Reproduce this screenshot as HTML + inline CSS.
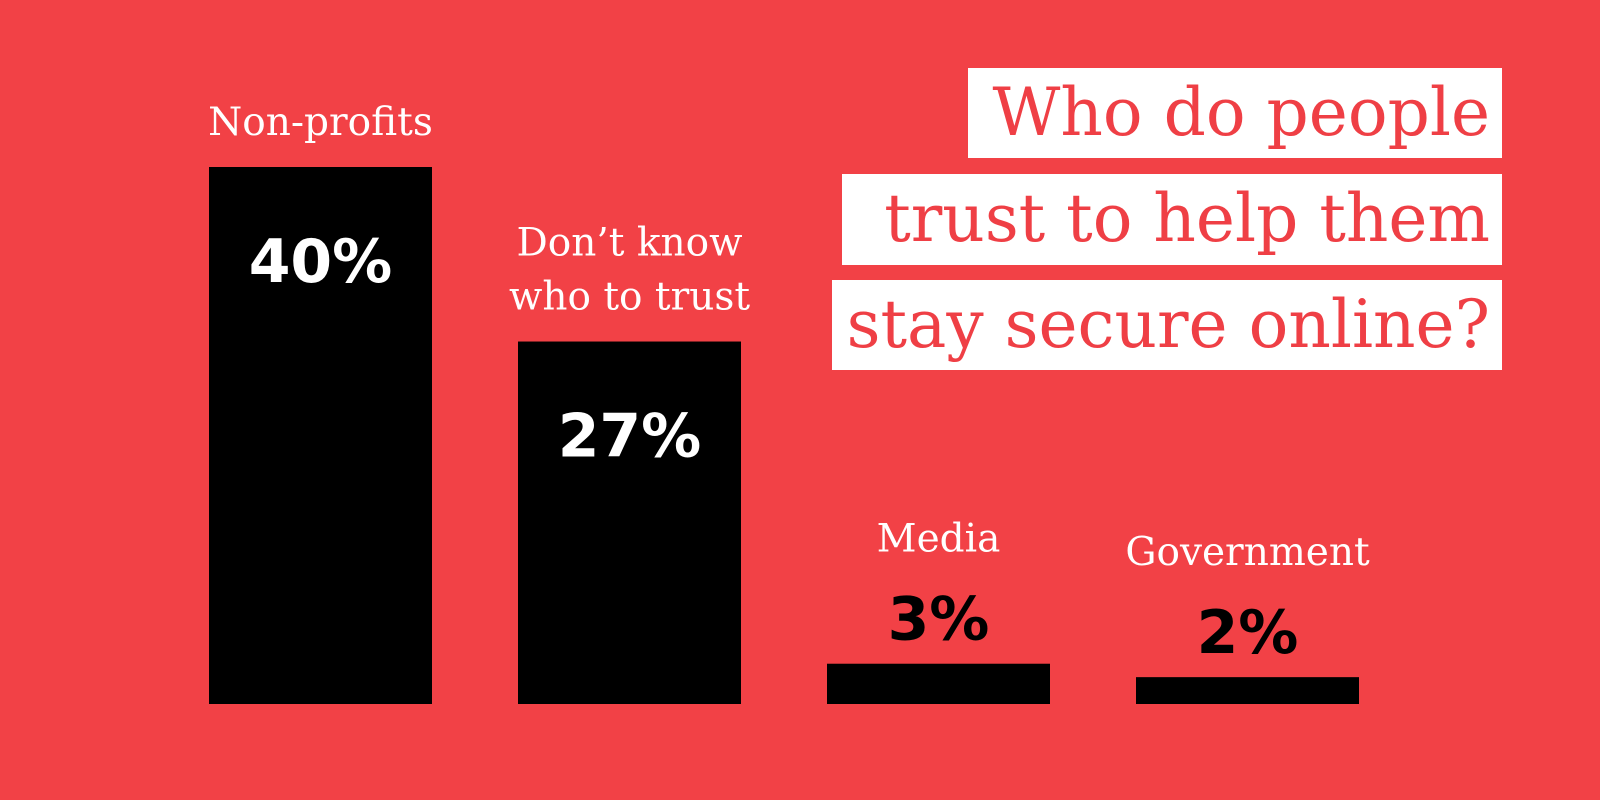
<!DOCTYPE html>
<html><head><meta charset="utf-8"><style>
html,body{margin:0;padding:0}
body{width:1600px;height:800px;background:#f24146;position:relative;overflow:hidden;font-family:"Liberation Serif",serif}
.tb{position:absolute;background:#fff;color:#ef3f45;font-family:"DejaVu Serif","Liberation Serif",serif;font-size:66px;line-height:90px;white-space:nowrap;text-align:right;box-sizing:border-box;padding-right:12px}
</style></head><body>
<div class="tb" style="left:968px;top:68px;width:534px;height:90px">Who do people</div>
<div class="tb" style="left:842px;top:174px;width:660px;height:91px">trust to help them</div>
<div class="tb" style="left:832px;top:280px;width:670px;height:90px">stay secure online?</div>
<svg id="chart" width="1600" height="800" style="position:absolute;left:0;top:0"></svg>
<script>
const categories=[["Non-profits"],["Don’t know","who to trust"],["Media"],["Government"]];
const values=[40,27,3,2];
const valueLabels=["40%","27%","3%","2%"];
const NS="http://www.w3.org/2000/svg";
const svg=document.getElementById("chart");
const baseY=704, pxPer=537/40, x0=209, step=309, bw=223;
function xPos(i){return x0+i*step;}
function yPos(v){return baseY-v*pxPer;}
function mk(t,a){const e=document.createElementNS(NS,t);for(const k in a)e.setAttribute(k,a[k]);svg.appendChild(e);return e;}
values.forEach((v,i)=>{
  const top=yPos(v), cx=xPos(i)+bw/2;
  const r=mk("rect",{x:xPos(i),y:top,width:bw,height:baseY-top,fill:"#000"});
  
  
  const inside=(baseY-top)>150;
  const vy=inside?top+115:top-24;
  const vt=mk("text",{x:cx,y:vy,"text-anchor":"middle","font-family":"DejaVu Sans, Liberation Sans, sans-serif","font-weight":"bold","font-size":"60",fill:inside?"#fff":"#000"});
  vt.textContent=valueLabels[i];
  
  
  const lines=categories[i];
  const lastY=inside?top-32:top-112;
  lines.forEach((ln,j)=>{
    const t=mk("text",{x:cx,y:lastY-(lines.length-1-j)*54,"text-anchor":"middle","font-family":"DejaVu Serif, Liberation Serif, serif","font-size":"39",fill:"#fff"});
    t.textContent=ln;
    
    
  });
});
</script>
</body></html>
